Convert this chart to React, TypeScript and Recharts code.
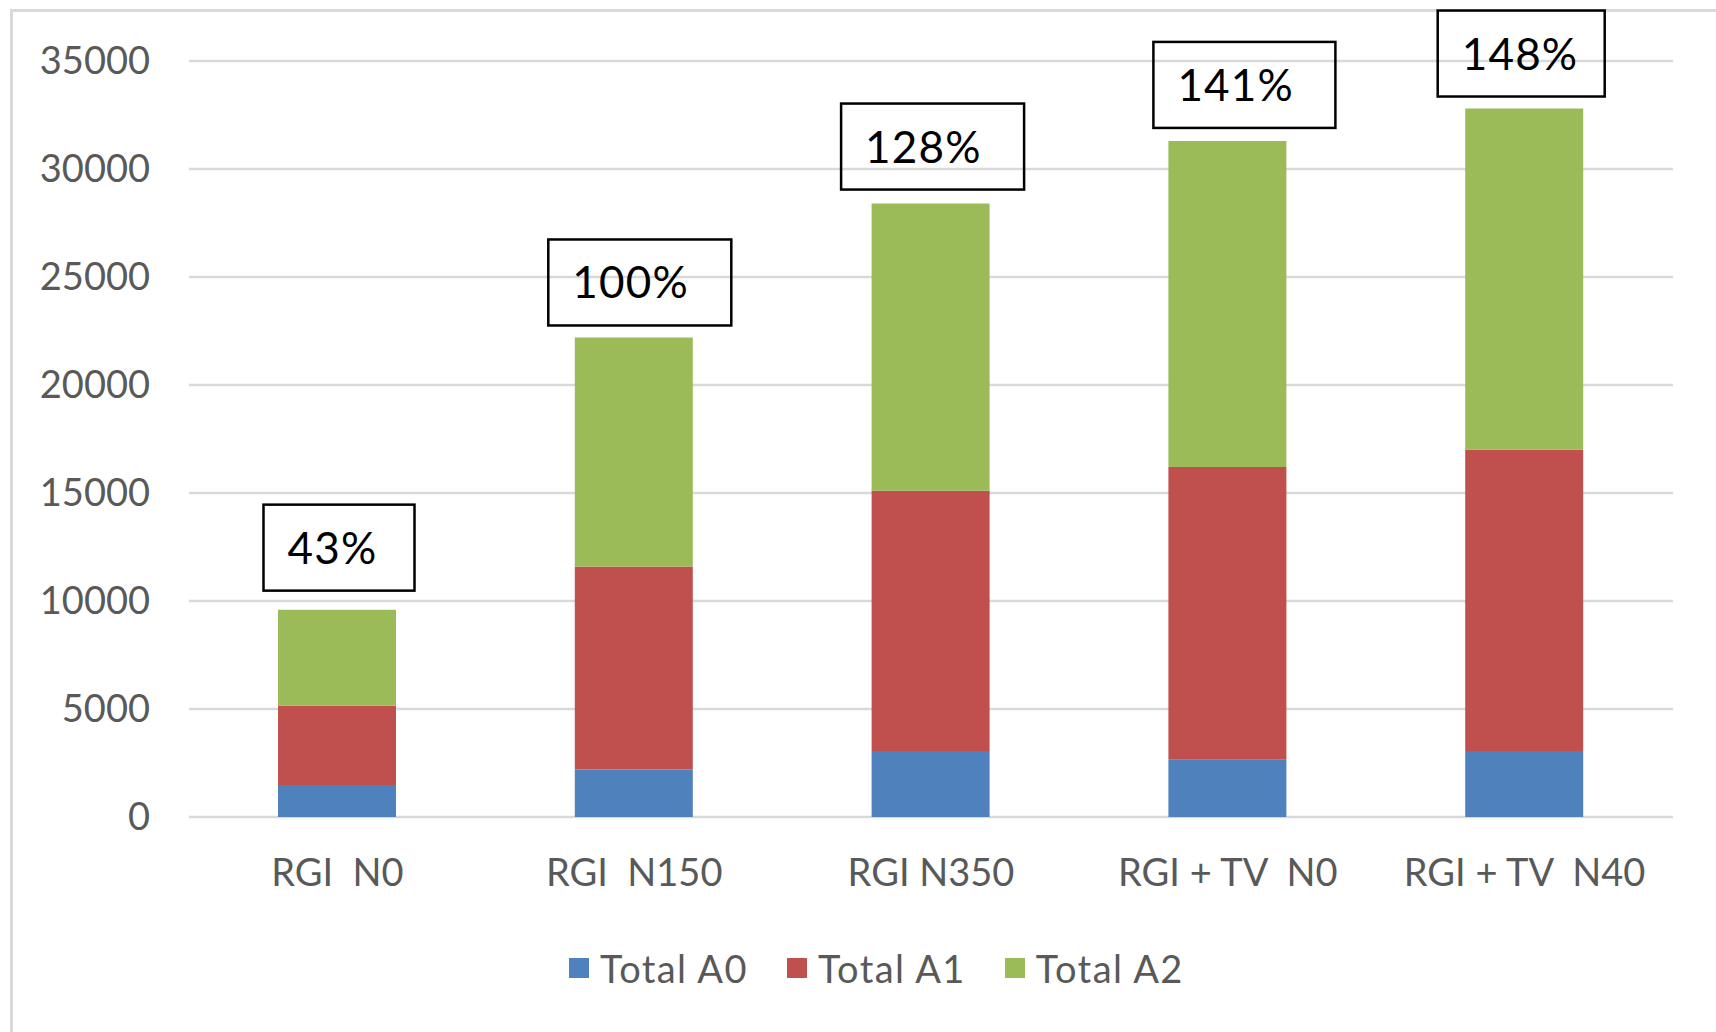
import React from "react";
import { BarChart, Bar, XAxis, YAxis, CartesianGrid, LabelList, Legend } from "recharts";

const categories = ["RGI  N0", "RGI  N150", "RGI N350", "RGI + TV  N0", "RGI + TV  N40"];
const totalA0 = [1480, 2200, 3050, 2650, 3050];
const totalA1 = [3670, 9400, 12050, 13550, 13950];
const totalA2 = [4450, 10600, 13300, 15100, 15800];
const percentLabels = [43, 100, 128, 141, 148];
const yTicks = [0, 5000, 10000, 15000, 20000, 25000, 30000, 35000];

const seriesNames = ["Total A0", "Total A1", "Total A2"];
const seriesColors = ["#4f81bd", "#c0504d", "#9bbb59"];

// annotation box styling (per category)
const boxStyles = [
  { w: 151, dx: 2, gap: 19 },
  { w: 183, dx: 6, gap: 12 },
  { w: 183, dx: 2, gap: 14 },
  { w: 182, dx: 17, gap: 13 },
  { w: 167, dx: -3, gap: 12 },
];

const data = categories.map((c, i) => ({
  name: c,
  a0: totalA0[i],
  a1: totalA1[i],
  a2: totalA2[i],
  pct: percentLabels[i],
}));

const FONT = "Lato, 'Open Sans', sans-serif";

const BoxLabel = (props: any) => {
  const { x, y, width, value, index } = props;
  const s = boxStyles[index] || { w: 170, dx: 0, gap: 13 };
  const h = 86;
  const cx = Number(x) + Number(width) / 2 + s.dx;
  const top = Number(y) - s.gap - h;
  const left = cx - s.w / 2;
  return (
    <g>
      <rect x={left} y={top} width={s.w} height={h} fill="none" stroke="#000" strokeWidth={2.5} />
      <text
        x={left + 24}
        y={top + 59}
        fontSize={44}
        fontFamily={FONT}
        fill="#000"
        style={{ letterSpacing: 1.2 }}
      >
        {`${value}%`}
      </text>
    </g>
  );
};

const XTick = (props: any) => {
  const { x, y, payload } = props;
  return (
    <text
      x={x}
      y={y}
      dy={69}
      textAnchor="middle"
      fill="#595959"
      fontSize={38}
      fontFamily={FONT}
      style={{ whiteSpace: "pre" }}
    >
      {payload.value}
    </text>
  );
};

const LegendContent = () => (
  <div
    style={{
      display: "flex",
      alignItems: "center",
      paddingLeft: 569,
      height: 40,
      fontFamily: FONT,
      fontSize: 38,
      color: "#595959",
      lineHeight: "40px",
    }}
  >
    {seriesNames.map((n, i) => (
      <div key={n} style={{ display: "flex", alignItems: "center", marginRight: 39 }}>
        <div style={{ width: 20, height: 20, background: seriesColors[i], marginRight: 11 }} />
        <span style={{ whiteSpace: "pre", letterSpacing: 1.4 }}>{n}</span>
      </div>
    ))}
  </div>
);

export default function App() {
  return (
    <div
      style={{
        position: "absolute",
        left: 0,
        top: 0,
        width: 1716,
        height: 1032,
        background: "#fff",
        overflow: "hidden",
      }}
    >
      <div
        style={{
          position: "absolute",
          left: 10,
          top: 9,
          width: 1750,
          height: 1100,
          borderLeft: "3px solid #d9d9d9",
          borderTop: "3px solid #d9d9d9",
        }}
      />
      <div style={{ position: "absolute", left: 0, top: 0 }}>
        <BarChart
          width={1716}
          height={1032}
          data={data}
          margin={{ top: 61, right: 43, left: 0, bottom: 155 }}
          barSize={118}
        >
          <CartesianGrid vertical={false} stroke="#d9d9d9" strokeWidth={2.5} />
          <XAxis
            dataKey="name"
            axisLine={false}
            tickLine={false}
            tickSize={0}
            tickMargin={0}
            height={60}
            tick={<XTick />}
            interval={0}
          />
          <YAxis
            domain={[0, 35000]}
            ticks={yTicks}
            width={189}
            axisLine={false}
            tickLine={false}
            tickSize={0}
            tickMargin={39}
            tick={{ fill: "#595959", fontSize: 38, fontFamily: FONT }}
            interval={0}
          />
          <Legend
            layout="horizontal"
            verticalAlign="middle"
            align="center"
            content={<LegendContent />}
            wrapperStyle={{ top: 948, left: 0, width: 1716, bottom: "auto", right: "auto" }}
          />
          <Bar dataKey="a0" name={seriesNames[0]} stackId="s" fill={seriesColors[0]} isAnimationActive={false} />
          <Bar dataKey="a1" name={seriesNames[1]} stackId="s" fill={seriesColors[1]} isAnimationActive={false} />
          <Bar dataKey="a2" name={seriesNames[2]} stackId="s" fill={seriesColors[2]} isAnimationActive={false}>
            <LabelList dataKey="pct" content={<BoxLabel />} />
          </Bar>
        </BarChart>
      </div>
    </div>
  );
}
